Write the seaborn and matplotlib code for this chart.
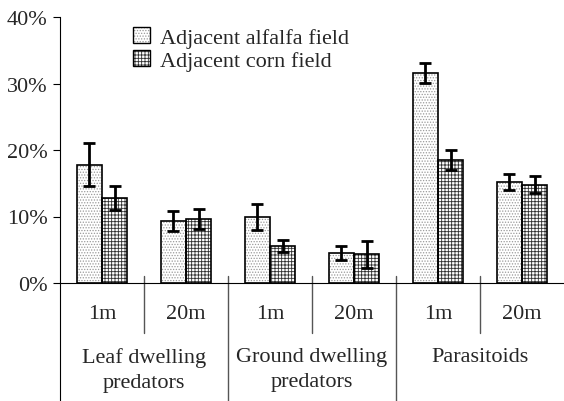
import matplotlib
matplotlib.use("Agg")
import matplotlib.pyplot as plt
import matplotlib.transforms as mtransforms
from matplotlib.patches import Rectangle
from matplotlib.legend_handler import HandlerPatch
import seaborn as sns
import pandas as pd
import numpy as np

groups = ["Leaf dwelling\npredators", "Ground dwelling\npredators", "Parasitoids"]
distances = ["1m", "20m"]
series = ["Adjacent alfalfa field", "Adjacent corn field"]
alfalfa = [17.8, 9.3, 9.9, 4.5, 31.6, 15.2]
corn = [12.8, 9.6, 5.5, 4.3, 18.5, 14.8]
alfalfa_err = [3.2, 1.5, 1.95, 1.0, 1.45, 1.2]
corn_err = [1.8, 1.55, 0.9, 2.05, 1.45, 1.3]
yticks = [0, 10, 20, 30, 40]

slots = [f"{g}|{d}" for g in groups for d in distances]
df = pd.DataFrame({
    "slot": slots * 2,
    "field": [series[0]] * 6 + [series[1]] * 6,
    "value": alfalfa + corn,
    "err": alfalfa_err + corn_err,
})

sns.set_theme(style="white")
plt.rcParams["font.family"] = ["Liberation Serif", "DejaVu Serif"]
plt.rcParams["hatch.linewidth"] = 0.6
FS = 16

fig = plt.figure(figsize=(5.64, 4.02), dpi=100)
ax = fig.add_axes([60 / 564, 1 - 284 / 402, 1 - 60 / 564, 266 / 402])

sns.barplot(data=df, x="slot", y="value", hue="field", order=slots,
            hue_order=series, width=0.6, errorbar=None, ax=ax,
            palette=["white", "white"], edgecolor="black", linewidth=1.2,
            legend=False)

hatches = {series[0]: "......", series[1]: "+++++"}
hcols = {series[0]: "#9a9a9a", series[1]: "#303030"}
n = len(slots)
bars = ax.patches[: 2 * n]
for i, p in enumerate(bars):
    s = series[i // n]
    p.set_hatch(hatches[s])
    p.set_edgecolor(hcols[s])
    p.set_linewidth(0)
    outline = Rectangle((p.get_x(), p.get_y()), p.get_width(), p.get_height(),
                        fill=False, edgecolor="black", linewidth=1.2, zorder=3)
    ax.add_patch(outline)

for i, p in enumerate(bars):
    s = series[i // n]
    e = (alfalfa_err if s == series[0] else corn_err)[i % n]
    ax.errorbar(p.get_x() + p.get_width() / 2, p.get_height(), yerr=e,
                fmt="none", ecolor="black", elinewidth=2, capsize=4,
                capthick=2, zorder=4)

ax.set_xlim(-0.5, n - 0.5)
ax.set_ylim(0, 40)
ax.set_yticks(yticks)
ax.set_yticklabels([f"{v}%" for v in yticks], fontsize=FS)
ax.tick_params(axis="y", direction="out", length=5, width=0.8, color="black", left=True, pad=4)
ax.set_xticks([])
ax.set_xlabel("")
ax.set_ylabel("")
for sp in ["top", "right"]:
    ax.spines[sp].set_visible(False)
ax.spines["left"].set_color("black")
ax.spines["bottom"].set_color("black")
ax.spines["left"].set_linewidth(0.8)
ax.spines["bottom"].set_linewidth(0.8)

trans = mtransforms.blended_transform_factory(ax.transData, ax.transAxes)
px = 1 / 266.0
ax.plot([-0.5, -0.5], [0, -118 * px], transform=trans, color="black", lw=0.8, clip_on=False)
for k in range(1, n):
    x = k - 0.5
    bottom = -50 * px if k % 2 == 1 else -118 * px
    ax.plot([x, x], [7 * px, bottom], transform=trans, color="#555555", lw=1.0, clip_on=False)

for k in range(n):
    ax.text(k, -31 * px, distances[k % 2], transform=trans, ha="center", va="center", fontsize=FS)
for g, name in enumerate(groups):
    ax.text(2 * g + 0.5, -64 * px, name, transform=trans, ha="center", va="top",
            fontsize=FS, linespacing=1.4)

handles = [Rectangle((0, 0), 1, 1, facecolor="white", edgecolor=hcols[s], hatch=hatches[s], lw=0)
           for s in series]

class OutlinedHandler(HandlerPatch):
    def create_artists(self, legend, orig_handle, xdescent, ydescent, width, height, fontsize, trans):
        r = Rectangle((-xdescent, -ydescent), width, height, facecolor="white",
                      edgecolor=orig_handle.get_edgecolor(), hatch=orig_handle.get_hatch(), lw=0,
                      transform=trans)
        o = Rectangle((-xdescent, -ydescent), width, height, fill=False, edgecolor="black",
                      lw=1.0, transform=trans)
        return [r, o]

leg = ax.legend(handles, series, loc="upper left", bbox_to_anchor=(0.105, 1.037), frameon=False,
                fontsize=FS, handlelength=0.75, handleheight=0.75, handletextpad=0.45,
                labelspacing=0.08, handler_map={Rectangle: OutlinedHandler()})

fig.savefig("out.png", dpi=100)
